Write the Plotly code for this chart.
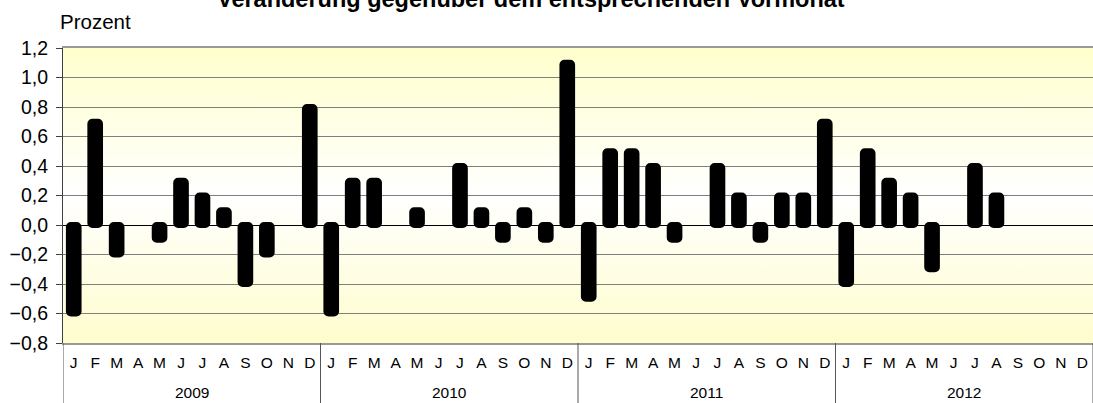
import base64
import plotly.graph_objects as go

years = ["2009", "2010", "2011", "2012"]
months = ["J", "F", "M", "A", "M", "J", "J", "A", "S", "O", "N", "D"]

v2009 = [-0.6, 0.7, -0.2, 0.0, -0.1, 0.3, 0.2, 0.1, -0.4, -0.2, 0.0, 0.8]
v2010 = [-0.6, 0.3, 0.3, 0.0, 0.1, 0.0, 0.4, 0.1, -0.1, 0.1, -0.1, 1.1]
v2011 = [-0.5, 0.5, 0.5, 0.4, -0.1, 0.0, 0.4, 0.2, -0.1, 0.2, 0.2, 0.7]
v2012 = [-0.4, 0.5, 0.3, 0.2, -0.3, 0.0, 0.4, 0.2, None, None, None, None]

values = v2009 + v2010 + v2011 + v2012
n_m = len(months)
x_idx = list(range(len(values)))
tick_text = months * len(years)

# months with zero change show no bar
vals = [None if (v is None or v == 0) else v for v in values]

svg = ("<svg xmlns='http://www.w3.org/2000/svg' width='100' height='100' preserveAspectRatio='none'>"
       "<defs><linearGradient id='g' x1='0' y1='0' x2='0' y2='1'>"
       "<stop offset='0' stop-color='#FFFFCC'/><stop offset='0.5' stop-color='#FFFFFF'/>"
       "<stop offset='1' stop-color='#FFFDCC'/></linearGradient></defs>"
       "<rect width='100' height='100' fill='url(#g)'/></svg>")
bg = "data:image/svg+xml;base64," + base64.b64encode(svg.encode()).decode()

W, H = 1093, 403
ML, MT, MB = 48, 48, 60
PW = W - ML            # paper width
PLOT_H = H - MT - MB   # 295
X0 = 15 / PW           # plot area starts 15 px right of paper start (pixel 63)

def py(pixel_y):
    return 1 + (MT - pixel_y) / PLOT_H

def px(pixel_x):
    return (pixel_x - ML) / PW

yrange = [-0.8, 1.2]

fig = go.Figure()
fig.add_trace(go.Bar(
    x=x_idx, y=vals, base=0, width=0.45,
    marker=dict(color="black", line=dict(color="black", width=6), cornerradius=2),
    hoverinfo="skip", showlegend=False,
))
# invisible companion trace so the label axis (y2) is drawn
fig.add_trace(go.Scatter(
    x=x_idx, y=vals, yaxis="y2", mode="markers", marker=dict(opacity=0, size=1),
    hoverinfo="skip", showlegend=False,
))

annotations = [
    dict(text="<b>Veränderung gegenüber dem entsprechenden Vormonat</b>", xref="paper", yref="paper",
         x=px(531), y=py(-1.5), xanchor="center", yanchor="middle",
         showarrow=False, font=dict(size=23.5, color="black")),
    dict(text="Prozent", xref="paper", yref="paper", x=px(58), y=py(21.5),
         xanchor="left", yanchor="middle", showarrow=False, font=dict(size=20.5, color="black")),
]
shapes = []
for i, yr in enumerate(years):
    annotations.append(dict(text=yr, xref="x", yref="paper", x=i * n_m + (n_m - 1) / 2, y=py(392),
                            xanchor="center", yanchor="middle", showarrow=False,
                            font=dict(size=15.5, color="black")))
for i in range(len(years) + 1):
    shapes.append(dict(type="line", xref="x", yref="paper", x0=i * n_m - 0.5, x1=i * n_m - 0.5,
                       y0=0, y1=py(403), line=dict(color="#555555", width=1)))

fig.update_layout(
    width=W,
    height=H,
    margin=dict(l=ML, r=0, t=MT, b=MB),
    paper_bgcolor="white",
    plot_bgcolor="rgba(0,0,0,0)",
    separators=",.",
    font=dict(family="Arial, Liberation Sans, sans-serif", color="black"),
    images=[dict(source=bg, xref="paper", yref="paper", x=X0, y=1, sizex=1 - X0, sizey=1,
                 sizing="stretch", layer="below", xanchor="left", yanchor="top")],
    annotations=annotations,
    shapes=shapes,
    xaxis=dict(
        domain=[X0, 1],
        range=[-0.5, len(values) - 0.5],
        tickmode="array", tickvals=x_idx, ticktext=tick_text,
        showline=True, linecolor="#999999", linewidth=2, mirror=True,
        ticks="", tickfont=dict(size=15.5), ticklabelstandoff=4,
        showgrid=False, zeroline=False,
    ),
    yaxis=dict(
        range=yrange, dtick=0.2, tick0=-0.8,
        showgrid=True, gridcolor="#7f7f7f", gridwidth=1,
        zeroline=True, zerolinecolor="black", zerolinewidth=1,
        ticks="outside", ticklen=6, tickcolor="#404040",
        showline=True, linecolor="#404040", linewidth=1,
        showticklabels=False,
    ),
    yaxis2=dict(
        overlaying="y", anchor="free", position=0, side="left",
        range=yrange, dtick=0.2, tick0=-0.8, tickformat=".1f",
        showgrid=False, zeroline=False, showline=False, ticks="",
        tickfont=dict(size=19.5),
    ),
)
fig.write_html("out.html", config={"displayModeBar": False},
               post_script="document.body.style.margin='0';")
